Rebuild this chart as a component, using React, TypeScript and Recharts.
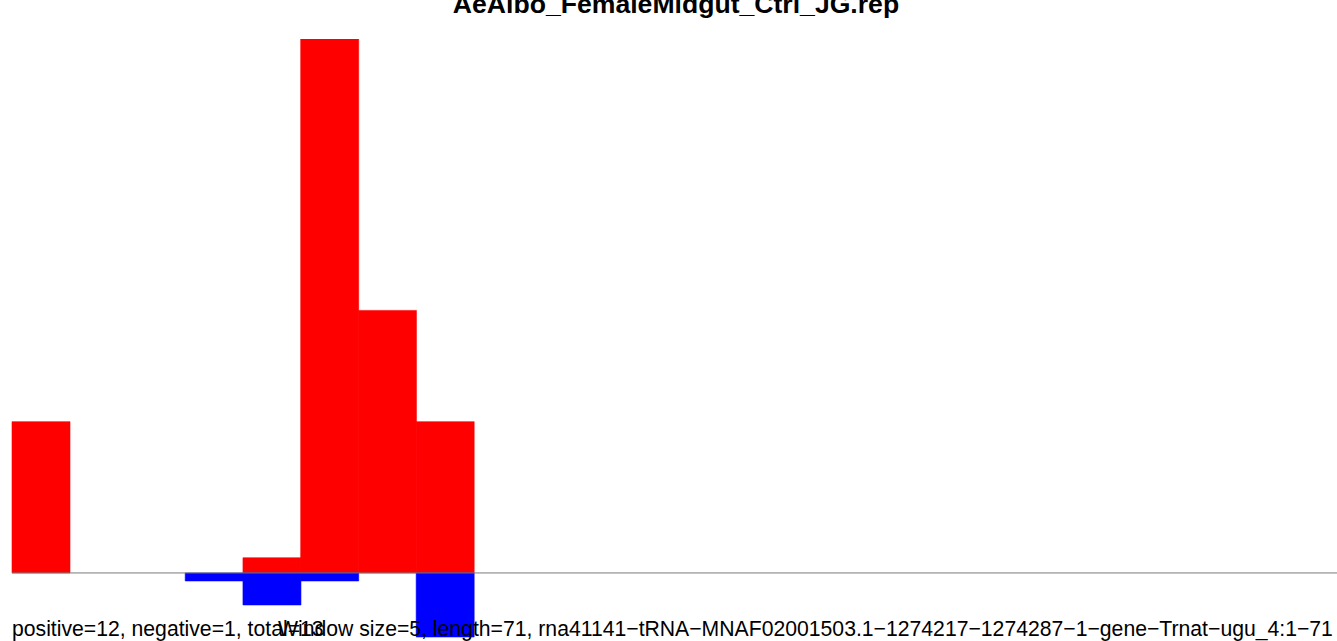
import { BarChart, Bar, XAxis, YAxis, ReferenceLine } from "recharts";

const TITLE = "AeAlbo_FemaleMidgut_Ctrl_JG.rep";
const SUMMARY = "positive=12, negative=1, total=13";
const SUBTITLE =
  "Window size=5, length=71, rna41141\u2212tRNA\u2212MNAF02001503.1\u22121274217\u22121274287\u22121\u2212gene\u2212Trnat\u2212ugu_4:1\u221271";

// window positions (23 visible slots)
const positions = Array.from({ length: 23 }, (_, i) => String(i + 1));
const positiveVals = [18.9, 0, 0, 0, 1.9, 66.7, 32.8, 18.9, 0, 0, 0, 0, 0, 0, 0, 0, 0, 0, 0, 0, 0, 0, 0];
const negativeVals = [0, 0, 0, -1, -4, -1, 0, -8, 0, 0, 0, 0, 0, 0, 0, 0, 0, 0, 0, 0, 0, 0, 0];

const chartData = positions.map((p, i) => ({
  pos: p,
  positive: positiveVals[i],
  negative: negativeVals[i],
}));

const font = "'Liberation Sans', Arial, Helvetica, sans-serif";

export default function App() {
  return (
    <div
      style={{
        position: "fixed",
        left: 0,
        top: 0,
        width: 1337,
        height: 641,
        overflow: "hidden",
        background: "#fff",
      }}
    >
      <BarChart
        width={1341}
        height={653}
        data={chartData}
        stackOffset="sign"
        barCategoryGap={0}
        barGap={0}
        margin={{ top: 39, right: 1, left: 12, bottom: 0 }}
      >
        <XAxis dataKey="pos" hide />
        <YAxis hide domain={[-10, 66.7]} allowDataOverflow />
        <ReferenceLine y={0} stroke="#7a7a7a" strokeWidth={1} />
        <Bar
          dataKey="positive"
          stackId="a"
          fill="#ff0000"
          stroke="#ff0000"
          strokeWidth={0.6}
          isAnimationActive={false}
        />
        <Bar
          dataKey="negative"
          stackId="a"
          fill="#0000ff"
          stroke="#0000ff"
          strokeWidth={0.6}
          isAnimationActive={false}
        />
      </BarChart>
      <svg
        width={1337}
        height={641}
        style={{ position: "absolute", left: 0, top: 0, pointerEvents: "none" }}
      >
        <text x={676} y={12.5} textAnchor="middle" fontFamily={font} fontWeight="bold" fontSize={26.6} fill="#000">
          {TITLE}
        </text>
        <text x={12} y={636} fontFamily={font} fontSize={21.2} fill="#000">
          {SUMMARY}
        </text>
        <text x={278} y={636} fontFamily={font} fontSize={21.2} fill="#000">
          {SUBTITLE}
        </text>
      </svg>
    </div>
  );
}
